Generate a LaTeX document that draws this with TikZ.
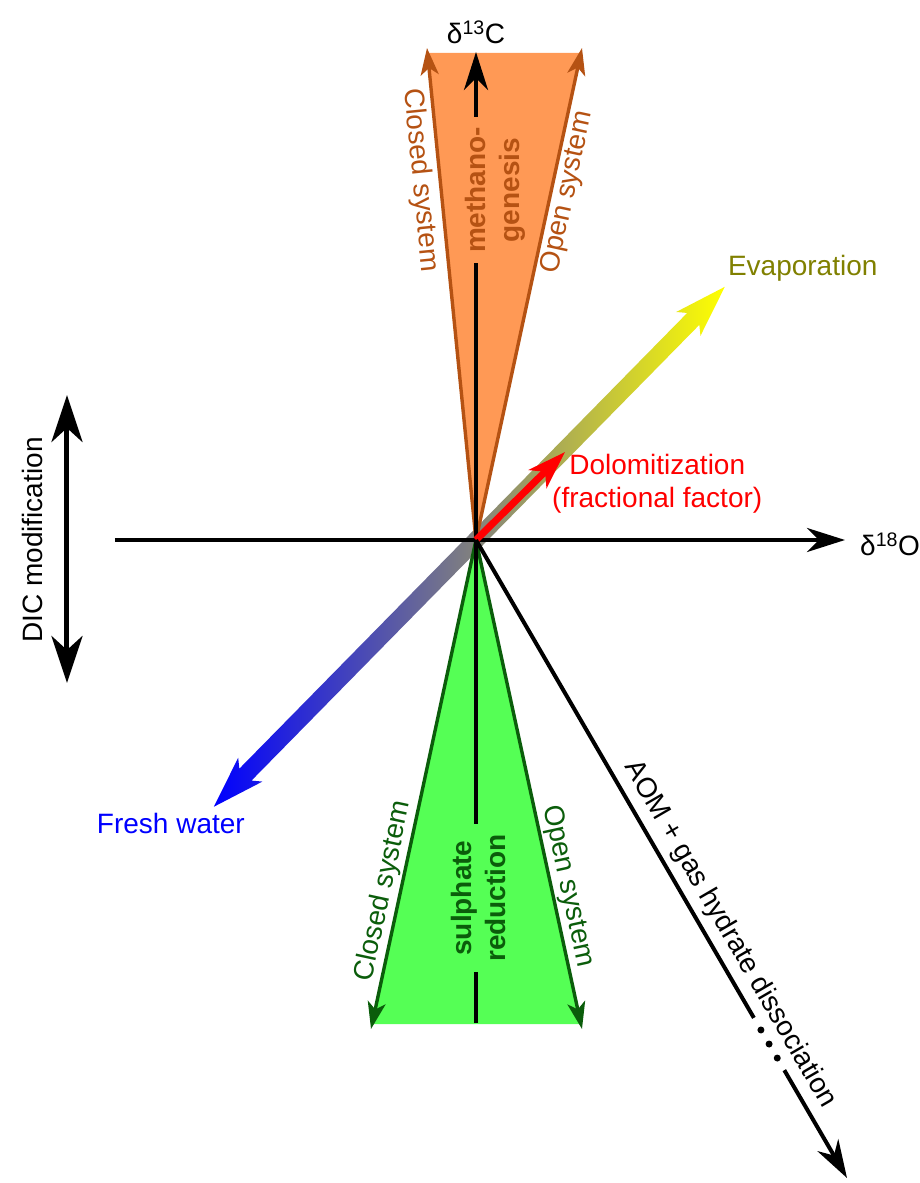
\documentclass[tikz,border=0pt]{standalone}
\usepackage{fontspec}
\setmainfont{Liberation Sans}
\usetikzlibrary{arrows.meta,positioning,calc}

\definecolor{orangefill}{RGB}{255,153,85}
\definecolor{brownline}{RGB}{181,82,19}
\definecolor{greenfill}{RGB}{85,255,85}
\definecolor{darkgreen}{RGB}{11,93,11}
\definecolor{evapcol}{RGB}{128,128,0}

\begin{document}
\begin{tikzpicture}[x=1pt,y=1pt,
  every node/.style={font=\fontsize{28}{33}\selectfont,inner sep=2pt},
  axisarrow/.style={line width=4pt,-{Stealth[length=38pt,width=24pt,inset=12pt]}},
  sysarrow/.style={line width=3.4pt,-{Stealth[length=27pt,width=18pt,inset=7pt]}},
  dicarrow/.style={line width=5pt,{Stealth[length=47pt,width=31pt,inset=14pt]}-{Stealth[length=47pt,width=31pt,inset=14pt]}},
  procname/.style={font=\fontsize{28}{34}\selectfont\bfseries,align=center,rotate=90,inner xsep=10pt,inner ysep=1pt}]
\useasboundingbox (-476,-643) rectangle (443,540);

\coordinate (O) at (0,0);
\coordinate (ytop) at (0,488);
\coordinate (ybot) at (0,-483);
\coordinate (xleft) at (-361,0);
\coordinate (xright) at (369,0);
\coordinate (mcl) at (-49,492);
\coordinate (mop) at (106,492);
\coordinate (scl) at (-105,-489);
\coordinate (sop) at (106,-489);
\coordinate (evap) at (45.5:355);
\coordinate (fresh) at (225.5:374);
\coordinate (dolo) at (89,88);
\coordinate (aom) at (371,-638);
\coordinate (dictop) at (-409,145);
\coordinate (dicbot) at (-409,-143);

% fields
\fill[orangefill] (O) -- ($(O)!0.99!(mcl)$) -- ($(O)!0.99!(mop)$) -- cycle;
\fill[greenfill] (O) -- ($(O)!0.99!(scl)$) -- ($(O)!0.99!(sop)$) -- cycle;

% evaporation / fresh water
\begin{scope}[rotate=45.5]
\shade[left color=blue,right color=yellow] (355,0) -- (303,17) -- (310,8.5) -- (-329,8.5) -- (-322,17) -- (-374,0)
  -- (-322,-17) -- (-329,-8.5) -- (310,-8.5) -- (303,-17) -- cycle;
\end{scope}

% closed and open systems
\draw[sysarrow,brownline] (O) -- node[sloped,pos=0.735,below=3pt] {Closed system} (mcl);
\draw[sysarrow,brownline] (O) -- node[sloped,pos=0.714,below] {Open system} (mop);
\draw[sysarrow,darkgreen] (O) -- node[sloped,pos=0.725,above] {Closed system} (scl);
\draw[sysarrow,darkgreen] (O) -- node[sloped,pos=0.715,above] {Open system} (sop);

% axes
\draw[axisarrow] (xleft) -- (xright);
\draw[axisarrow] (ybot) -- (ytop);
\node[above=6pt of ytop] (d13C) {δ\textsuperscript{13}C};
\node[right=13pt of xright,yshift=-4pt] (d18O) {δ\textsuperscript{18}O};

\node[procname,fill=orangefill,text=brownline] (meth) at (19,350) {methano-\\genesis};
\node[procname,fill=greenfill,text=darkgreen] (sulph) at (2,-358) {sulphate\\reduction};

% dolomitization
\draw[line width=7pt,red,-{Stealth[length=38pt,width=25pt,inset=10pt]}] (O) -- (dolo);

% AOM
\draw[line width=4pt] (O) -- ($(O)!0.749!(aom)$);
\foreach \f in {0.768,0.790,0.812}
  \fill ($(O)!\f!(aom)$) circle (3.5);
\draw[axisarrow] ($(O)!0.831!(aom)$) -- (aom);
\path (O) -- node[sloped,pos=0.635,above=6pt] (aomlabel) {AOM + gas hydrate dissociation} (aom);

% DIC
\draw[dicarrow] (dicbot) -- (dictop);
\node[rotate=90] (dic) at (-444,0) {DIC modification};

% labels
\node[anchor=base west,text=evapcol] (evaplabel) at ($(evap)+(1,11)$) {Evaporation};
\node[anchor=base,text=blue] (freshlabel) at ($(fresh)+(-43,-27)$) {Fresh water};
\node[anchor=west,align=center,text=red] (dololabel) at ($(dolo)+(-15,-32)$) {Dolomitization\\(fractional factor)};
\end{tikzpicture}
\end{document}
